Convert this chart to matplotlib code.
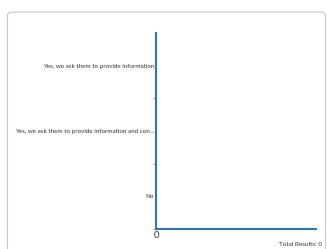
import matplotlib.pyplot as plt
from matplotlib.patches import FancyBboxPatch

categories = ["Yes, we ask them to provide information",
              "Yes, we ask them to provide information and con...",
              "No"]
values = [0, 0, 0]
total = sum(values)

plt.rcParams['font.family'] = ['Lato', 'DejaVu Sans']

W, H = 327, 249
fig = plt.figure(figsize=(W / 100, H / 100), dpi=100)

# card border
card = FancyBboxPatch((7.5 / W, -20 / H), 318 / W, (H - 12 + 20) / H,
                      boxstyle="round,pad=0,rounding_size=0.015",
                      transform=fig.transFigure, facecolor='none',
                      edgecolor='#c8c8c8', linewidth=0.8, zorder=-1)
fig.patches.append(card)

ax = fig.add_axes([156 / W, (H - 229) / H, 160 / W, 196 / H])
ax.set_facecolor('none')
y = list(range(len(categories)))
ax.barh(y, values, color='#2e75b6', height=0.6)
ax.set_ylim(len(categories) - 0.5, -0.5)
ax.set_xlim(0, 1)
ax.set_yticks(y)
ax.set_yticklabels(categories, fontsize=4.5, color='#333333')
ax.set_yticks([0.5, 1.5, 2.5], minor=True)
ax.tick_params(axis='y', which='major', length=0, pad=1.5)
ax.tick_params(axis='y', which='minor', length=2, color='#999999', width=0.6)
ax.set_xticks([0])
ax.set_xticklabels(['0'], fontsize=7, color='#333333')
ax.tick_params(axis='x', length=0, pad=1.5)
for s in ['top', 'right']:
    ax.spines[s].set_visible(False)
for s in ['left', 'bottom']:
    ax.spines[s].set_color('#2e75b6')
    ax.spines[s].set_linewidth(1.5)

fig.text(322 / W, 2 / H, f"Total Results: {total}", ha='right', va='bottom',
         fontsize=4.6, color='#333333')

fig.savefig('out.png', dpi=100)
